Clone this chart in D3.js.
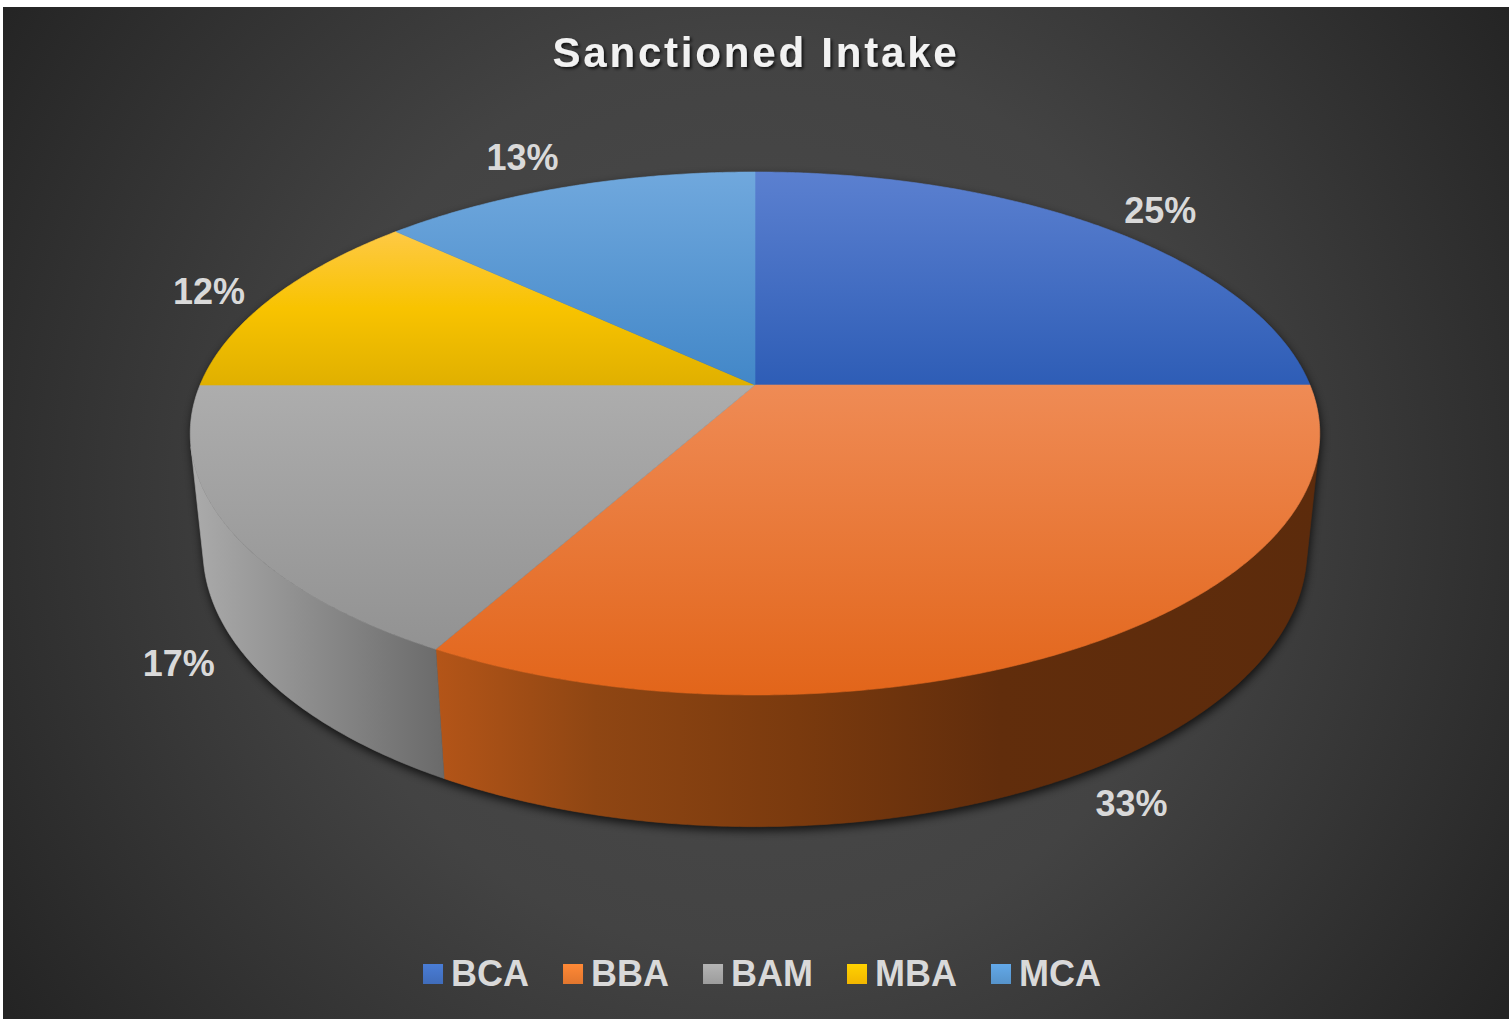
<!DOCTYPE html>
<html>
<head>
<meta charset="utf-8">
<script src="https://cdn.jsdelivr.net/npm/d3@7"></script>
<style>
  html, body { margin: 0; padding: 0; background: #ffffff; }
  svg { display: block; }
</style>
</head>
<body>
<svg id="chart" width="1511" height="1023"></svg>
<script>
// ---- data ----
const title = "Sanctioned Intake";
const categories = ["BCA", "BBA", "BAM", "MBA", "MCA"];
const shares = [25, 33, 17, 12, 13];

// ---- style ----
const baseColors = ["#4472C4", "#ED7D31", "#A5A5A5", "#FFC000", "#5B9BD5"];
const topShades = {
  BCA: [[0, "#5b80d0"], [1, "#2e5db6"]],
  BBA: [[0, "#ef8b55"], [1, "#e2651a"]],
  BAM: [[0, "#adadad"], [1, "#929292"]],
  MBA: [[0, "#fec945"], [0.5, "#f8c300"], [1, "#e0b000"]],
  MCA: [[0, "#70a8dd"], [1, "#4287c8"]]
};
const wallShades = {
  BBA: [[0, "#b45518"], [0.18, "#8f4613"], [0.41, "#7a3a0e"], [0.64, "#612d0c"], [1, "#5c2b0c"]],
  BAM: [[0, "#ababab"], [1, "#6a6a6a"]]
};
const labelColor = "#d9d9d9";
const fontFamily = "'Liberation Sans', Arial, sans-serif";

const W = 1511, H = 1023;
const svg = d3.select("#chart");
const defs = svg.append("defs");

// ---- background panel ----
const bg = defs.append("radialGradient").attr("id", "bgGrad")
  .attr("gradientUnits", "userSpaceOnUse").attr("cx", 755).attr("cy", 500).attr("r", 905);
bg.append("stop").attr("offset", 0).attr("stop-color", "#4c4c4c");
bg.append("stop").attr("offset", 0.5).attr("stop-color", "#434343");
bg.append("stop").attr("offset", 1).attr("stop-color", "#242424");
svg.append("rect").attr("x", 3).attr("y", 7).attr("width", 1506).attr("height", 1012)
  .attr("fill", "url(#bgGrad)");

// ---- filters ----
const sh = defs.append("filter").attr("id", "pieShadow")
  .attr("x", "-10%").attr("y", "-10%").attr("width", "120%").attr("height", "130%");
sh.append("feGaussianBlur").attr("stdDeviation", 5);

const ts = defs.append("filter").attr("id", "titleShadow")
  .attr("x", "-5%").attr("y", "-30%").attr("width", "110%").attr("height", "160%");
ts.append("feDropShadow").attr("dx", 2).attr("dy", 2).attr("stdDeviation", 1.6)
  .attr("flood-color", "#000").attr("flood-opacity", 0.7);

// ---- 3D perspective view of the pie disc ----
const view = { cx: 755, cy: 385, sinA: 0.455, cosA: 0.891, q: 0.208, depth: 0.237 };
const xScale = d3.scaleLinear().domain([-1, 1]).range([view.cx - 555, view.cx + 555]);
const yScale = d3.scaleLinear().domain([-1, 1]).range([view.cy - 555, view.cy + 555]);

// theta: clockwise from 12 o'clock, s: radius fraction, z: depth below top face
function project(theta, s, z) {
  const u = s * Math.sin(theta), v = -s * Math.cos(theta);
  const w = 1 - view.q * (v * view.cosA - z * view.sinA);
  return [xScale(u / w), yScale((v * view.sinA + z * view.cosA) / w)];
}
function rim(a0, a1, z) {
  const n = Math.max(2, Math.ceil(Math.abs(a1 - a0) / (Math.PI / 360)));
  return d3.range(n + 1).map(i => project(a0 + (a1 - a0) * i / n, 1, z));
}
const line = d3.line();

const color = d3.scaleOrdinal().domain(categories).range(baseColors);
const rows = categories.map((c, i) => ({ name: c, share: shares[i] }));
const arcs = d3.pie().sort(null).value(d => d.share)
  .startAngle(0).endAngle(2 * Math.PI)(rows);

// side wall visible where the outer normal faces the eye
const vis0 = Math.acos(-view.q / view.cosA);
const vis1 = 2 * Math.PI - vis0;

// gradients per slice
arcs.forEach((a, i) => {
  const name = a.data.name;
  const base = d3.color(color(name));
  const tg = defs.append("linearGradient").attr("id", "top-" + i)
    .attr("x1", 0).attr("y1", 0).attr("x2", 0).attr("y2", 1);
  (topShades[name] || [[0, base.brighter(0.2)], [1, base.darker(0.2)]])
    .forEach(([o, c]) => tg.append("stop").attr("offset", o).attr("stop-color", c));
  const wg = defs.append("linearGradient").attr("id", "wall-" + i)
    .attr("x1", 0).attr("y1", 0).attr("x2", 1).attr("y2", 0);
  (wallShades[name] || [[0, base.darker(0.8)], [1, base.darker(2.5)]])
    .forEach(([o, c]) => wg.append("stop").attr("offset", o).attr("stop-color", c));
});

// ---- shadow under the disc ----
const silhouette = rim(vis0, vis1 - 2 * Math.PI, 0).concat(rim(vis1, vis0, view.depth));
svg.append("path")
  .attr("d", line(silhouette) + "Z")
  .attr("fill", "#000").attr("opacity", 0.75)
  .attr("transform", "translate(1,4)")
  .attr("filter", "url(#pieShadow)");

// ---- side walls ----
const gPie = svg.append("g");
arcs.forEach((a, i) => {
  const lo = Math.max(a.startAngle, vis0), hi = Math.min(a.endAngle, vis1);
  if (lo >= hi) return;
  const pts = rim(lo, hi, 0).concat(rim(hi, lo, view.depth));
  gPie.append("path")
    .attr("d", line(pts) + "Z")
    .attr("fill", `url(#wall-${i})`)
    .attr("stroke", `url(#wall-${i})`).attr("stroke-width", 0.6);
});

// ---- top faces ----
arcs.forEach((a, i) => {
  const pts = [project(0, 0, 0)].concat(rim(a.startAngle, a.endAngle, 0));
  gPie.append("path")
    .attr("d", line(pts) + "Z")
    .attr("fill", `url(#top-${i})`)
    .attr("stroke", `url(#top-${i})`).attr("stroke-width", 0.6)
    .attr("stroke-linejoin", "round");
});

// ---- data labels (outside end) ----
const pct = d3.format(".0%");
const total = d3.sum(shares);
const labelGap = 28;
arcs.forEach(a => {
  const mid = (a.startAngle + a.endAngle) / 2;
  const front = -Math.cos(mid) > 0;
  const z = front ? view.depth : 0;
  const anchor = project(mid, 1, z);
  const origin = project(0, 0, z);
  let dx = anchor[0] - origin[0], dy = anchor[1] - origin[1];
  const len = Math.hypot(dx, dy); dx /= len; dy /= len;
  const t = svg.append("text")
    .attr("font-family", fontFamily).attr("font-weight", "bold")
    .attr("font-size", 36).attr("fill", labelColor)
    .attr("text-anchor", "middle")
    .text(pct(a.data.share / total));
  const halfW = t.node().getComputedTextLength() / 2, halfH = front ? 20 : 13;
  const cx = anchor[0] + dx * (labelGap + halfW);
  const cy = anchor[1] + dy * (labelGap + halfH);
  t.attr("x", cx).attr("y", cy + 13);
});

// ---- title ----
svg.append("text")
  .attr("x", 756).attr("y", 67)
  .attr("text-anchor", "middle")
  .attr("font-family", fontFamily).attr("font-weight", "bold")
  .attr("font-size", 42).attr("letter-spacing", "2.8px")
  .attr("fill", "#f2f2f2")
  .attr("filter", "url(#titleShadow)")
  .text(title);

// ---- legend ----
const legend = svg.append("g");
const sw = 20, swGap = 8, itemGap = 34, legendCenter = 762;
let x = 0;
categories.forEach((c, i) => {
  const g = legend.append("g");
  const lg = defs.append("linearGradient").attr("id", "key-" + i)
    .attr("x1", 0).attr("y1", 0).attr("x2", 0).attr("y2", 1);
  const base = d3.color(color(c));
  lg.append("stop").attr("offset", 0).attr("stop-color", base.brighter(0.25));
  lg.append("stop").attr("offset", 1).attr("stop-color", base.darker(0.15));
  g.append("rect").attr("x", 0).attr("y", 964).attr("width", sw).attr("height", sw)
    .attr("fill", `url(#key-${i})`);
  const t = g.append("text")
    .attr("x", sw + swGap).attr("y", 986)
    .attr("font-family", fontFamily).attr("font-weight", "bold")
    .attr("font-size", 36).attr("fill", labelColor)
    .text(c);
  const w = sw + swGap + t.node().getComputedTextLength();
  g.attr("transform", `translate(${x},0)`);
  x += w + itemGap;
});
const legendWidth = x - itemGap;
legend.attr("transform", `translate(${legendCenter - legendWidth / 2},0)`);
</script>
</body>
</html>
